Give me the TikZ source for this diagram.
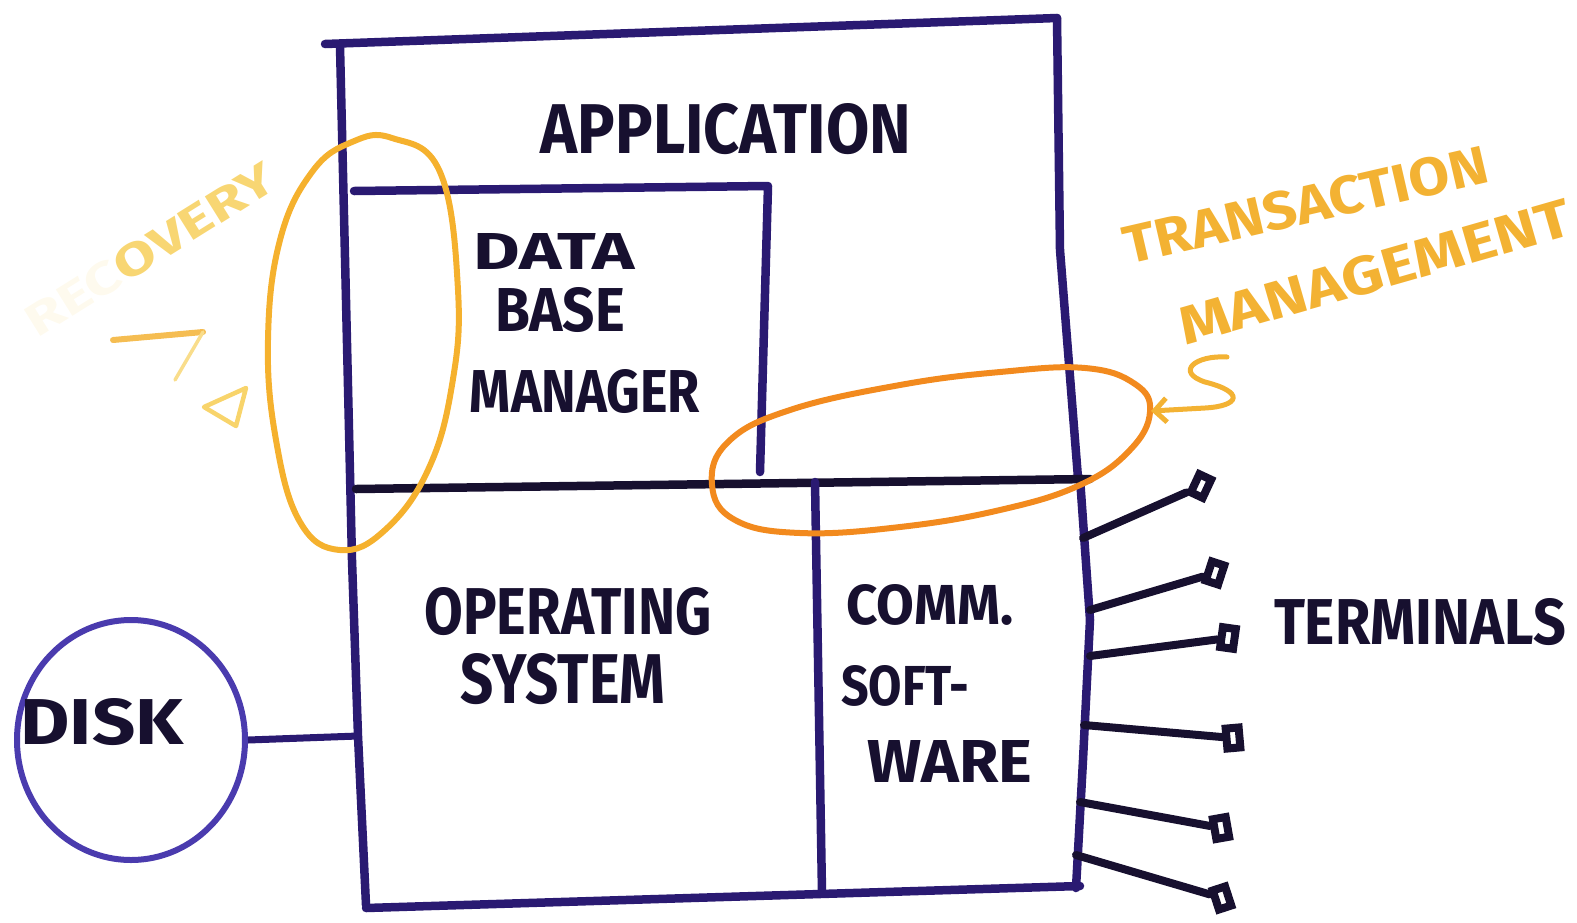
\documentclass[tikz,border=0pt]{standalone}
\usepackage{fontspec}
\setmainfont{Fira Sans}
\usepackage{graphicx}
\usetikzlibrary{arrows.meta,shapes.geometric}

\definecolor{frame}{HTML}{2A1A72}
\definecolor{diskblue}{HTML}{4A3BAE}
\definecolor{ink}{HTML}{17102F}
\definecolor{leftloop}{HTML}{F5B12E}
\definecolor{rightloop}{HTML}{F28A1E}
\definecolor{note}{HTML}{F3B233}
\definecolor{faint}{HTML}{F7CF5A}

% marker lettering: text stretched to a given width and cap height (pt)
\newcommand{\hand}[3]{\resizebox{#1pt}{#2pt}{\bfseries #3}}

\begin{document}
\begin{tikzpicture}[x=1pt,y=-1pt,
  frameline/.style={draw=frame,line width=8.5pt,line cap=round,line join=round},
  lbl/.style={inner sep=0pt,text=ink},
  notelbl/.style={inner sep=0pt,text=note},
  wire/.style={draw=ink,line width=8pt,line cap=round},
  term/.style={draw=ink,fill=white,line width=8pt,rectangle,minimum width=13pt,minimum height=20pt,inner sep=0pt},
  loop/.style={line width=6pt,line join=round}]
\useasboundingbox (0,0) rectangle (1577,922);

% ---- system box ----
\draw[frameline] (325,44) -- (1057,18);
\draw[frameline] (340,46) -- (346,300) -- (352,560) -- (358,736) -- (366,905);
\draw[frameline] (1057,18) -- (1060,250) -- (1078,478);
\draw[frameline] (1080,478) -- (1090,620) -- (1083,760) -- (1076,888);
\draw[frameline] (366,908) -- (1080,886);
% data base manager box
\draw[frameline] (354,191) -- (768,186) -- (760,472);
% layer divider
\draw[frameline,draw=ink] (356,489) -- (1090,479);
% operating system / communication split
\draw[frameline] (815,482) -- (822,893);

% ---- labels ----
\node[lbl] (app) at (726,129) {\hand{370}{50}{APPLICATION}};
\node[lbl] (dbm1) at (554,251) {\hand{162}{36}{DATA}};
\node[lbl] (dbm2) at (560,310) {\hand{130}{44}{BASE}};
\node[lbl] (dbm3) at (585,391) {\hand{230}{43}{MANAGER}};
\node[lbl] (os1) at (568,612) {\hand{287}{47}{OPERATING}};
\node[lbl] (os2) at (563,679) {\hand{205}{50}{SYSTEM}};
\node[lbl] (cs1) at (930,605) {\hand{167}{40}{COMM.}};
\node[lbl] (cs2) at (905,686) {\hand{128}{40}{SOFT-}};
\node[lbl] (cs3) at (950,761) {\hand{165}{42}{WARE}};

% ---- disk ----
\node[draw=diskblue,line width=6pt,ellipse,minimum width=228pt,minimum height=240pt,inner sep=0pt] (disk) at (131,740) {};
\node[lbl] (disklbl) at (102,722) {\hand{163}{46}{DISK}};
\coordinate (dconn) at (358,736);
\draw[draw=frame,line width=7pt] (disk.east) -- (dconn);

% ---- terminals ----
\coordinate (s1) at (1083,538);
\coordinate (s2) at (1090,610);
\coordinate (s3) at (1090,656);
\coordinate (s4) at (1084,725);
\coordinate (s5) at (1080,802);
\coordinate (s6) at (1076,855);
\node[term,rotate=-25] (t1) at (1201,486) {};
\node[term,rotate=-18] (t2) at (1215,573) {};
\node[term,rotate=-8] (t3) at (1228,638) {};
\node[term,rotate=5] (t4) at (1233,738) {};
\node[term,rotate=10] (t5) at (1221,828) {};
\node[term,rotate=18] (t6) at (1222,898) {};
\foreach \i in {1,...,6} \draw[wire] (s\i) -- (t\i);
\node[lbl] (termlbl) at (1420,622) {\hand{292}{46}{TERMINALS}};

% ---- recovery loop ----
\draw[leftloop,loop] plot[smooth cycle,tension=0.7] coordinates {
  (392,138) (440,172) (458,290) (452,385) (428,470) (385,530) (340,550)
  (300,522) (276,440) (268,340) (280,240) (312,172) (352,142)};
\node[notelbl,rotate=32] (rec) at (150,250)
  {\hand{285}{32}{\textcolor{faint!10}{REC}\textcolor{faint!85}{OVERY}}};
\coordinate (ra) at (113,340);
\coordinate (rb) at (203,332);
\coordinate (rc) at (175,380);
\draw[line width=6pt,line cap=round,line join=round,note!85] (ra) -- (rb);
\draw[line width=3.5pt,line cap=round,faint!70] (rb) -- (rc);
\draw[line width=4.5pt,line join=round,faint!90] (204,407) -- (246,388) -- (236,426) -- cycle;

% ---- transaction management loop ----
\draw[rightloop,loop] plot[smooth cycle,tension=0.7] coordinates {
  (712,485) (728,442) (790,410) (900,385) (1000,372) (1085,368) (1135,384)
  (1150,412) (1130,450) (1080,485) (1000,510) (900,527) (800,533) (735,520)};
\node[notelbl,rotate=13] (tm1) at (1306,205) {\hand{372}{38}{TRANSACTION}};
\node[notelbl,rotate=16] (tm2) at (1375,272) {\hand{405}{38}{MANAGEMENT}};
\coordinate (sa) at (1227,357);
\coordinate (sb) at (1151,411);
\draw[note,line width=5pt,line cap=round,-{Straight Barb[length=12pt,width=24pt]}]
  (sa) .. controls (1195,355) and (1175,372) .. (1205,382)
       .. controls (1245,392) and (1240,406) .. (1205,408) -- (sb);
\end{tikzpicture}
\end{document}
